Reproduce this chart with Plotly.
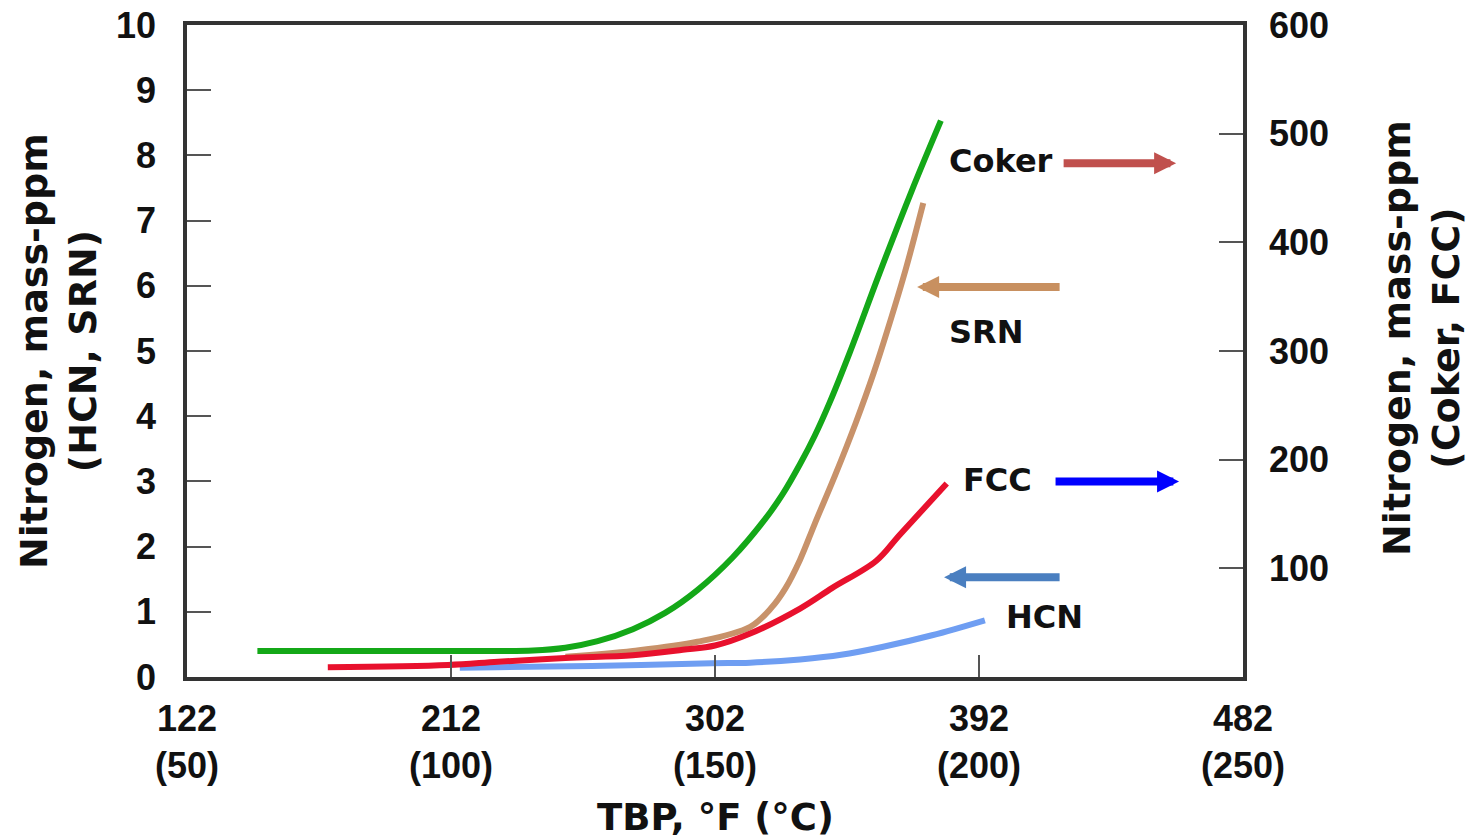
import plotly.graph_objects as go

# ---- data ----
coker_T = [146, 200, 240, 251, 262, 274, 285, 296, 308, 319, 325, 331, 336, 341, 348, 358, 369, 379]
coker_N = [24, 24, 24.5, 27, 33, 44, 59, 80, 110, 145, 168, 196, 222, 252, 299, 371, 447, 512]

srn_T = [251, 274, 296, 314, 321, 326, 331, 336, 343, 350, 356, 361, 367, 373]
srn_N = [0.31, 0.40, 0.54, 0.77, 1.05, 1.36, 1.80, 2.35, 3.10, 3.90, 4.65, 5.35, 6.25, 7.27]

fcc_T = [170, 211, 228, 251, 274, 291, 302, 314, 331, 342, 357, 365, 381]
fcc_N = [9, 11, 14, 17.5, 20, 25, 29, 40, 63, 82, 107, 131, 178]

hcn_T = [215, 228, 260, 301, 314, 331, 345, 359, 376, 394]
hcn_N = [0.14, 0.15, 0.17, 0.21, 0.22, 0.27, 0.34, 0.46, 0.64, 0.87]

x_tickvals = [122, 212, 302, 392, 482]
x_ticktext = ["122<br>(50)", "212<br>(100)", "302<br>(150)", "392<br>(200)", "482<br>(250)"]
y_tickvals = list(range(0, 11))
y2_tickvals = [100, 200, 300, 400, 500, 600]

TICK_FONT = dict(family="Liberation Sans, Arial", size=36, color="#111", weight="bold")
TEXT_FONT = "DejaVu Sans"

fig = go.Figure()
fig.add_trace(go.Scatter(x=srn_T, y=srn_N, mode="lines", yaxis="y",
                         line=dict(color="#c8926a", width=6, shape="spline"), name="SRN"))
fig.add_trace(go.Scatter(x=fcc_T, y=fcc_N, mode="lines", yaxis="y2",
                         line=dict(color="#e8112d", width=6, shape="spline"), name="FCC"))
fig.add_trace(go.Scatter(x=hcn_T, y=hcn_N, mode="lines", yaxis="y",
                         line=dict(color="#6f9ef2", width=6, shape="spline"), name="HCN"))
fig.add_trace(go.Scatter(x=coker_T, y=coker_N, mode="lines", yaxis="y2",
                         line=dict(color="#14a818", width=6, shape="spline"), name="Coker"))

# labels: (text, x, y)
labels = [("Coker", 381, 7.91), ("SRN", 381, 5.29), ("FCC", 386, 3.02), ("HCN", 400.5, 0.92)]
# arrows: (tip x, tip y, tail offset px, color)
arrows = [(459.2, 7.88, -114, "#c0504d"), (370.9, 5.98, 144, "#c89060"),
          (460.2, 3.0, -125, "#0000ff"), (380.1, 1.53, 117, "#4a7fc0")]

ann = []
for t, x, y in labels:
    ann.append(dict(x=x, y=y, xref="x", yref="y", text=t, showarrow=False, xanchor="left",
                    yanchor="middle", font=dict(family=TEXT_FONT, size=32, color="#111", weight="bold")))
for x, y, ax, c in arrows:
    ann.append(dict(x=x, y=y, xref="x", yref="y", text="", showarrow=True, ax=ax, ay=0,
                    arrowhead=2, arrowwidth=8, arrowsize=0.55, arrowcolor=c, standoff=0, startstandoff=0))

ann.append(dict(x=0.5, y=-0.216, xref="paper", yref="paper", text="TBP, °F (°C)", showarrow=False,
                xanchor="center", yanchor="middle",
                font=dict(family=TEXT_FONT, size=37, color="#111", weight="bold")))
ann.append(dict(x=-0.1222, y=0.50, xref="paper", yref="paper", text="Nitrogen, mass-ppm<br>(HCN, SRN)",
                showarrow=False, textangle=-90, xanchor="center", yanchor="middle",
                font=dict(family=TEXT_FONT, size=38, color="#111", weight="bold")))
ann.append(dict(x=1.1695, y=0.52, xref="paper", yref="paper", text="Nitrogen, mass-ppm<br>(Coker, FCC)",
                showarrow=False, textangle=-90, xanchor="center", yanchor="middle",
                font=dict(family=TEXT_FONT, size=38, color="#111", weight="bold")))

fig.update_layout(
    width=1483, height=840,
    margin=dict(l=187, r=240, t=25, b=163, autoexpand=False),
    paper_bgcolor="white", plot_bgcolor="white",
    showlegend=False,
    annotations=ann,
    xaxis=dict(range=[122, 482], tickvals=x_tickvals, ticktext=x_ticktext, ticks="inside",
               ticklen=22, tickwidth=2, tickcolor="#555", showline=True, linewidth=3.5,
               linecolor="#333", mirror=True, showgrid=False, zeroline=False,
               tickfont=TICK_FONT, ticklabelstandoff=7, automargin=False),
    yaxis=dict(range=[0, 10], tickvals=y_tickvals, ticks="inside", ticklen=24, tickwidth=2,
               tickcolor="#555", showline=True, linewidth=3.5, linecolor="#333", mirror=True,
               showgrid=False, zeroline=False, tickfont=TICK_FONT, ticklabelstandoff=20,
               automargin=False),
    yaxis2=dict(range=[0, 600], tickvals=y2_tickvals, overlaying="y", side="right",
                ticks="inside", ticklen=24, tickwidth=2, tickcolor="#555", showline=True,
                linewidth=3.5, linecolor="#333", showgrid=False, zeroline=False,
                tickfont=TICK_FONT, ticklabelstandoff=15, automargin=False),
)

fig.write_html("out.html")
